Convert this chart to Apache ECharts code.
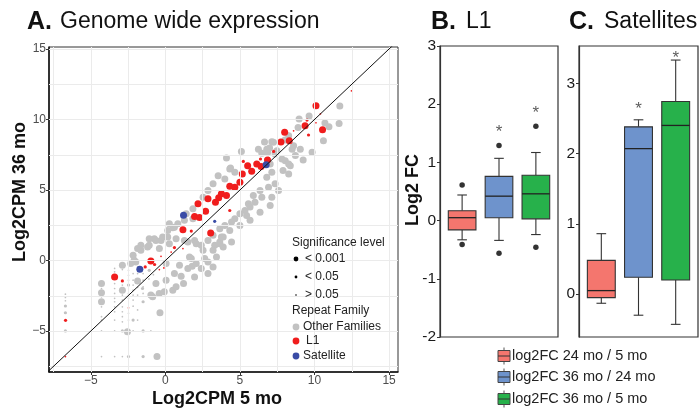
<!DOCTYPE html>
<html>
<head>
<meta charset="utf-8">
<script src="https://cdn.jsdelivr.net/npm/echarts@6/dist/echarts.min.js"></script>
<style>
html,body{margin:0;padding:0;background:#fff;}
#main{width:699px;height:409px;}
</style>
</head>
<body>
<div id="main"></div>
<script>
// A: [log2CPM 5 mo, log2CPM 36 mo, significance: 3 = <0.001, 2 = <0.05, 1 = >0.05]
var otherPts = [
  [11.7,10.95,3],[11.65,9.72,3],[10.97,9.48,3],[10.6,8.5,3],[10.7,9.75,3],[9.84,7.67,3],[9.05,7.9,3],
  [8.97,10.03,3],[9.64,10.24,3],[8.9,9.43,3],[8.27,8.85,3],[8.02,8.55,3],[7.14,8.42,3],[6.65,8.4,3],
  [6.99,7.98,3],[6.47,7.6,3],[5.1,7.74,3],[4.1,7.27,3],[8.5,7.9,3],[9.24,7.13,3],[7.48,7.79,3],
  [6.87,7.67,3],[8.27,6.14,3],[4.37,6.57,3],[6.24,7.9,3],[6.8,7.9,3],[7.25,8.38,3],[7.03,6.85,3],
  [8.04,7.08,3],[7.89,6.38,3],[8.38,6.73,3],[8.72,7.44,3],[8.6,8.14,3],
  [4.32,6.5,3],[4.66,6.26,3],[3.54,6.02,3],[3.99,5.79,3],[3.2,5.44,3],[2.86,4.96,3],[2.53,4.49,3],
  [1.85,3.67,3],[1.4,3.32,3],[0.84,2.61,3],[0.5,2.33,3],[0.16,1.67,3],[-0.29,1.43,3],[-0.74,1.55,3],
  [-1.19,0.96,3],[-0.4,0.85,3],
  [7.36,7.55,3],[7.82,7.2,3],[8.27,6.85,3],[7.14,6.26,3],[6.8,5.9,3],[7.36,5.44,3],[6.92,5.2,3],
  [6.35,4.96,3],[6.47,4.49,3],[5.9,4.61,3],[6.01,4.14,3],[5.57,4.02,3],[5.34,3.55,3],[5.0,3.32,3],
  [4.66,2.97,3],[4.44,2.73,3],[3.99,2.49,3],[3.65,2.26,3],[3.2,1.79,3],[3.76,1.67,3],[4.32,2.14,3],
  [5.0,2.49,3],[5.68,2.85,3],[6.35,3.43,3],[7.03,3.9,3],[7.14,4.49,3],[7.59,4.96,3],[2.86,1.43,3],
  [2.41,1.08,3],[1.96,1.43,3],[1.28,1.43,3],[3.31,1.08,3],[3.88,0.96,3],[4.44,1.31,3],
  [5.68,3.79,3],[5.45,3.2,3],[3.65,1.31,3],[1.8,-0.4,3],
  [-2.88,-0.33,3],[-4.28,-1.63,3],[-4.28,-2.29,3],[-4.28,-2.92,3],[-2.88,-2.1,3],[-1.86,-1.44,3],
  [-2.54,-5.04,3],[-0.36,-3.7,3],[-0.56,-6.81,3],[-1.49,-2.92,2],[-0.85,-2.57,3],[-0.41,-2.33,3],
  [-0.07,-2.21,3],[0.5,-2.1,3],[0.72,-1.86,3],[1.22,-1.63,3],[1.06,-1.11,3],[0.61,-0.92,3],
  [-2.16,0.37,3],[-1.98,-0.1,3],[-1.64,0.73,3],[-1.08,1.08,3],[-0.63,1.43,3],[-0.18,1.67,3],
  [0.27,1.2,3],[0.72,1.55,3],[1.51,1.31,3],[2.07,1.2,3],[2.53,0.73,3],[1.62,0.25,3],[2.07,-0.21,3],
  [2.64,0.14,3],[3.2,0.73,3],[3.65,1.2,3],[3.88,1.67,3],[0.95,-0.33,3],[0.05,-0.21,3],[1.51,-0.56,3],
  [2.41,-0.56,3],[2.86,-0.1,3],[-1.08,-0.69,2],[1.74,0.14,3],
  [0.05,-1.39,3],[-0.63,-1.63,3],[-1.53,-1.98,2],[1.96,-1.16,3],[2.86,-0.92,3],[3.2,-0.45,3],
  [3.43,0.25,3],[-0.97,-2.45,3],[-1.08,1.55,3],[-1.64,1.08,3],[-1.86,0.85,3],[-2.09,0.02,3],
  [-2.32,-0.21,3],[0.16,2.14,3],[0.61,2.37,3],[0.27,2.61,3],[1.85,2.97,3],[1.28,2.85,3],
  [-6.7,-2.38,1],[-6.7,-2.61,1],[-6.7,-2.85,1],[-6.7,-3.22,2],[-6.7,-3.7,2],[-6.7,-4.99,2],
  [-4.28,-1.98,1],[-4.28,-2.57,1],[-4.28,-3.28,1],[-4.28,-3.98,1],[-4.28,-4.22,1],[-4.28,-4.99,1],[-4.28,-6.81,1],
  [-3.4,-0.56,1],[-3.4,-0.8,1],[-3.4,-1.63,1],[-3.4,-1.98,1],[-3.4,-2.33,1],[-3.4,-2.68,1],[-3.4,-2.92,1],
  [-3.4,-3.28,1],[-3.4,-3.63,1],[-3.4,-4.22,1],[-3.4,-4.99,1],[-3.4,-6.81,1],
  [-2.88,-0.64,1],[-2.88,-1.74,1],[-2.88,-2.45,1],[-2.88,-2.8,1],[-2.88,-3.28,1],[-2.88,-3.63,1],
  [-2.88,-3.98,1],[-2.88,-4.34,1],[-2.88,-4.99,2],[-2.88,-6.81,1],
  [-2.47,-0.69,1],[-2.47,-1.04,1],[-2.47,-1.39,1],[-2.47,-1.74,2],[-2.47,-2.33,1],[-2.47,-2.68,1],
  [-2.47,-3.74,1],[-2.47,-4.22,1],[-2.47,-6.81,2],
  [-2.16,-0.92,1],[-2.16,-1.39,1],[-2.16,-1.74,1],[-2.16,-2.1,1],[-2.16,-2.45,1],[-2.16,-2.8,1],
  [-2.16,-3.23,1],[-2.16,-4.22,2],[-2.16,-4.99,1],
  [-1.86,-0.45,1],[-1.86,-0.92,1],[-1.86,-1.39,1],[-1.86,-1.9,1],[-1.86,-2.45,1],[-1.86,-3.5,1],[-1.86,-4.22,1],
  [-1.49,-0.92,1],[-1.49,-1.39,1],[-1.49,-1.86,1],[-1.49,-2.33,1],[-1.49,-4.99,2],[-1.49,-6.81,2],
  [-0.97,-4.99,1],[-1.1,-1.3,1],[-0.8,-1.0,1]
];
var l1Pts = [
  [10.1,10.97,3],[10.54,9.27,3],[9.37,9.55,3],[8.0,9.1,3],[7.75,8.4,3],[8.31,8.5,3],[6.85,7.13,3],
  [6.13,6.85,3],[6.42,6.66,3],[5.52,6.73,3],[5.79,6.33,3],[5.16,6.14,3],[5.0,5.55,3],[4.32,5.27,3],
  [4.66,5.2,3],[3.76,4.73,3],[4.1,4.61,3],[3.58,4.45,3],[3.36,4.14,3],[2.86,4.38,3],[2.19,4.02,3],
  [2.7,3.5,3],[1.96,3.13,3],[2.29,3.06,3],[3.04,1.95,3],[1.18,2.19,3],[-0.97,-0.03,3],[-3.4,-1.16,3],
  [9.5,9.96,2],[9.6,8.9,2],[7.26,7.74,2],[5.23,7.03,2],[6.38,7.2,2],[6.92,7.25,2],[4.32,3.55,2],
  [1.74,2.09,2],[0.61,0.92,2],[-2.88,-1.44,2],[-1.35,-0.45,2],[-0.72,-0.28,2],[-6.69,-4.24,2],
  [10.4,10.4,1],[8.6,9.2,1],[10.1,9.77,1],[12.48,12.03,1],[-2.47,-3.35,1],[-6.7,-6.81,1],
  [-0.4,-0.64,1],[-0.1,-0.52,1],[0.39,0.6,1],[-0.29,0.3,1],[1.18,0.85,1]
];
var satPts = [[6.76,6.8,3],[1.22,3.22,3],[-1.71,-0.61,3],[3.31,2.78,2]];
var diagLine = [[-7.9,-7.9],[15.6,15.6]];
var gridBreaks = [-7.5,-5,-2.5,0,2.5,5,7.5,10,12.5,15];
var ticksA = [-5,0,5,10,15];

// B and C: [min, Q1, median, Q3, max] per comparison
var boxPos = [1,2,3];
var l1Box = [[-0.33,-0.16,0.05,0.17,0.44],[-0.34,0.05,0.42,0.76,1.07],[-0.24,0.03,0.46,0.78,1.17]];
var l1Out = [[1,0.61],[1,-0.41],[2,1.29],[2,-0.56],[3,1.62],[3,-0.46]];
var l1Stars = [[2,1.59],[3,1.92]];
var satBox = [[-0.13,-0.05,0.05,0.48,0.86],[-0.3,0.24,2.07,2.38,2.48],[-0.43,0.2,2.4,2.74,3.33]];
var satStars = [[2,2.69],[3,3.41]];
var ticksB = [-2,-1,0,1,2,3];
var ticksC = [0,1,2,3];
var boxNames = ['log2FC 24 mo / 5 mo','log2FC 36 mo / 24 mo','log2FC 36 mo / 5 mo'];
var boxColors = ['#f4766e','#6e93cc','#27b14b'];

var FONT = '"Liberation Sans", Arial, sans-serif';
var sizeBySig = {3: 7, 2: 3.2, 1: 1.7};

function minusFmt(v) { return String(v).replace('-', '\u2212'); }

function boxItem(params, api) {
  var x = api.value(0);
  var lo = api.coord([x, api.value(1)]);
  var q1 = api.coord([x, api.value(2)]);
  var md = api.coord([x, api.value(3)]);
  var q3 = api.coord([x, api.value(4)]);
  var hi = api.coord([x, api.value(5)]);
  var half = api.size([0.375, 0])[0];
  var cap = api.size([0.13, 0])[0];
  var st = {stroke: '#333', lineWidth: 1.1};
  return {type: 'group', children: [
    {type: 'line', shape: {x1: hi[0], y1: hi[1], x2: q3[0], y2: q3[1]}, style: st},
    {type: 'line', shape: {x1: lo[0], y1: lo[1], x2: q1[0], y2: q1[1]}, style: st},
    {type: 'line', shape: {x1: hi[0] - cap, y1: hi[1], x2: hi[0] + cap, y2: hi[1]}, style: st},
    {type: 'line', shape: {x1: lo[0] - cap, y1: lo[1], x2: lo[0] + cap, y2: lo[1]}, style: st},
    {type: 'rect', shape: {x: q3[0] - half, y: q3[1], width: 2 * half, height: q1[1] - q3[1]},
      style: {fill: boxColors[params.dataIndex], stroke: '#333', lineWidth: 1.1}},
    {type: 'line', shape: {x1: md[0] - half, y1: md[1], x2: md[0] + half, y2: md[1]},
      style: {stroke: '#222', lineWidth: 1.3}}
  ]};
}

function boxData(stats) {
  return stats.map(function (b, i) { return [boxPos[i]].concat(b); });
}

function txt(x, y, s, size, weight, align, color, rot) {
  return {type: 'text', x: x, y: y, rotation: rot || 0, z: 100,
    style: {text: s, font: (weight || 'normal') + ' ' + size + 'px ' + FONT,
      fill: color || '#111', align: align || 'left', verticalAlign: 'middle',
      textAlign: align || 'left', textVerticalAlign: 'middle'}};
}

var graphics = [
  txt(27, 22, 'A.', 25, 'bold'), txt(60, 22, 'Genome wide expression', 23),
  txt(431, 22, 'B.', 25, 'bold'), txt(466, 22, 'L1', 23),
  txt(569, 22, 'C.', 25, 'bold'), txt(604, 22, 'Satellites', 23),
  txt(20, 192, 'Log2CPM 36 mo', 18, 'bold', 'center', '#111', Math.PI / 2),
  txt(217, 399, 'Log2CPM 5 mo', 18, 'bold', 'center'),
  txt(413, 190, 'Log2 FC', 18, 'bold', 'center', '#111', Math.PI / 2),
  txt(292, 243, 'Significance level', 12, 'normal', 'left', '#222'),
  txt(305, 259, '< 0.001', 12, 'normal', 'left', '#222'),
  txt(305, 277, '< 0.05', 12, 'normal', 'left', '#222'),
  txt(305, 295, '> 0.05', 12, 'normal', 'left', '#222'),
  txt(292, 311, 'Repeat Family', 12, 'normal', 'left', '#222'),
  txt(303, 327, 'Other Families', 12, 'normal', 'left', '#222'),
  txt(306, 341, 'L1', 12, 'normal', 'left', '#222'),
  txt(303, 356, 'Satellite', 12, 'normal', 'left', '#222'),
  {type: 'circle', shape: {cx: 296, cy: 259, r: 2.4}, style: {fill: '#000'}, z: 100},
  {type: 'circle', shape: {cx: 296, cy: 277, r: 1.4}, style: {fill: '#000'}, z: 100},
  {type: 'circle', shape: {cx: 296, cy: 295, r: 0.8}, style: {fill: '#000'}, z: 100},
  {type: 'circle', shape: {cx: 296, cy: 327, r: 3.4}, style: {fill: '#c2c2c2'}, z: 100},
  {type: 'circle', shape: {cx: 296, cy: 341, r: 3.4}, style: {fill: '#f01d1d'}, z: 100},
  {type: 'circle', shape: {cx: 296, cy: 356, r: 3.4}, style: {fill: '#3a4ca6'}, z: 100}
];
var legRows = [356, 377, 399];
boxNames.forEach(function (name, i) {
  var cy = legRows[i];
  graphics.push(
    {type: 'line', shape: {x1: 504, y1: cy - 8.5, x2: 504, y2: cy + 8.5}, style: {stroke: '#555', lineWidth: 1}, z: 99},
    {type: 'rect', shape: {x: 498, y: cy - 5.5, width: 12, height: 11}, style: {fill: boxColors[i], stroke: '#444', lineWidth: 1}, z: 100},
    {type: 'line', shape: {x1: 498, y1: cy, x2: 510, y2: cy}, style: {stroke: '#333', lineWidth: 1}, z: 101},
    txt(512, cy, name, 14.5, 'normal', 'left', '#222')
  );
});

function gridLines() {
  return gridBreaks.map(function (v) { return {xAxis: v}; })
    .concat(gridBreaks.map(function (v) { return {yAxis: v}; }));
}

var scatterBase = {
  type: 'scatter', xAxisIndex: 0, yAxisIndex: 0, silent: true,
  symbolSize: function (v) { return sizeBySig[v[2]]; }
};

var starLabel = {show: true, position: 'inside', formatter: '*', fontSize: 17, color: '#333', offset: [0, 4]};

var option = {
  animation: false,
  backgroundColor: '#fff',
  textStyle: {fontFamily: FONT},
  graphic: {elements: graphics},
  grid: [
    {left: 49, top: 47, width: 349, height: 325, show: true, borderColor: '#333', borderWidth: 1, backgroundColor: '#fff'},
    {left: 440, top: 46, width: 118, height: 291, show: true, borderColor: '#333', borderWidth: 1.2, backgroundColor: '#fff'},
    {left: 579, top: 46, width: 119, height: 291, show: true, borderColor: '#333', borderWidth: 1.2, backgroundColor: '#fff'}
  ],
  xAxis: [
    {gridIndex: 0, type: 'value', min: -7.8, max: 15.6,
      axisLine: {show: true, onZero: false, lineStyle: {color: '#111', width: 1.5}},
      axisTick: {show: true, length: 3, customValues: ticksA, lineStyle: {color: '#333'}},
      axisLabel: {customValues: ticksA, formatter: minusFmt, color: '#4d4d4d', fontSize: 12, margin: 3},
      splitLine: {show: false}},
    {gridIndex: 1, type: 'value', min: 0.4, max: 3.6, show: false},
    {gridIndex: 2, type: 'value', min: 0.4, max: 3.6, show: false}
  ],
  yAxis: [
    {gridIndex: 0, type: 'value', min: -7.9, max: 15.14,
      axisLine: {show: true, onZero: false, lineStyle: {color: '#111', width: 1.5}},
      axisTick: {show: true, length: 3, customValues: ticksA, lineStyle: {color: '#333'}},
      axisLabel: {customValues: ticksA, formatter: minusFmt, color: '#4d4d4d', fontSize: 12, margin: 3},
      splitLine: {show: false}},
    {gridIndex: 1, type: 'value', min: -2, max: 3,
      axisLine: {show: true, onZero: false, lineStyle: {color: '#333', width: 1.2}},
      axisTick: {show: true, length: 3, customValues: ticksB, lineStyle: {color: '#333'}},
      axisLabel: {customValues: ticksB, color: '#1a1a1a', fontSize: 15.5, margin: 4},
      splitLine: {show: false}},
    {gridIndex: 2, type: 'value', min: -0.61, max: 3.53,
      axisLine: {show: true, onZero: false, lineStyle: {color: '#333', width: 1.2}},
      axisTick: {show: true, length: 3, customValues: ticksC, lineStyle: {color: '#333'}},
      axisLabel: {customValues: ticksC, color: '#1a1a1a', fontSize: 15.5, margin: 4},
      splitLine: {show: false}}
  ],
  series: [
    {type: 'line', xAxisIndex: 0, yAxisIndex: 0, data: [], silent: true, z: 1,
      markLine: {silent: true, symbol: 'none', label: {show: false}, animation: false,
        lineStyle: {color: '#ebebeb', width: 1, type: 'solid'}, data: gridLines()}},
    Object.assign({}, scatterBase, {name: 'Other Families', data: otherPts, z: 2, itemStyle: {color: '#c2c2c2', opacity: 1}}),
    Object.assign({}, scatterBase, {name: 'L1', data: l1Pts, z: 3, itemStyle: {color: '#f01d1d', opacity: 1}}),
    Object.assign({}, scatterBase, {name: 'Satellite', data: satPts, z: 4, itemStyle: {color: '#3a4ca6', opacity: 1}}),
    {type: 'line', xAxisIndex: 0, yAxisIndex: 0, data: diagLine, z: 5, silent: true, symbol: 'none',
      lineStyle: {color: '#111', width: 1}},
    {type: 'custom', xAxisIndex: 1, yAxisIndex: 1, renderItem: boxItem, data: boxData(l1Box),
      encode: {x: 0, y: [1, 2, 3, 4, 5]}, z: 2, silent: true},
    {type: 'scatter', xAxisIndex: 1, yAxisIndex: 1, data: l1Out, symbolSize: 5.5, z: 3, silent: true,
      itemStyle: {color: '#000'}},
    {type: 'scatter', xAxisIndex: 1, yAxisIndex: 1, data: l1Stars, symbolSize: 1, z: 3, silent: true,
      itemStyle: {color: 'rgba(0,0,0,0)'}, label: starLabel},
    {type: 'custom', xAxisIndex: 2, yAxisIndex: 2, renderItem: boxItem, data: boxData(satBox),
      encode: {x: 0, y: [1, 2, 3, 4, 5]}, z: 2, silent: true},
    {type: 'scatter', xAxisIndex: 2, yAxisIndex: 2, data: satStars, symbolSize: 1, z: 3, silent: true,
      itemStyle: {color: 'rgba(0,0,0,0)'}, label: starLabel}
  ]
};

var chart = echarts.init(document.getElementById('main'), null, {renderer: 'canvas'});
chart.setOption(option);
</script>
</body>
</html>
